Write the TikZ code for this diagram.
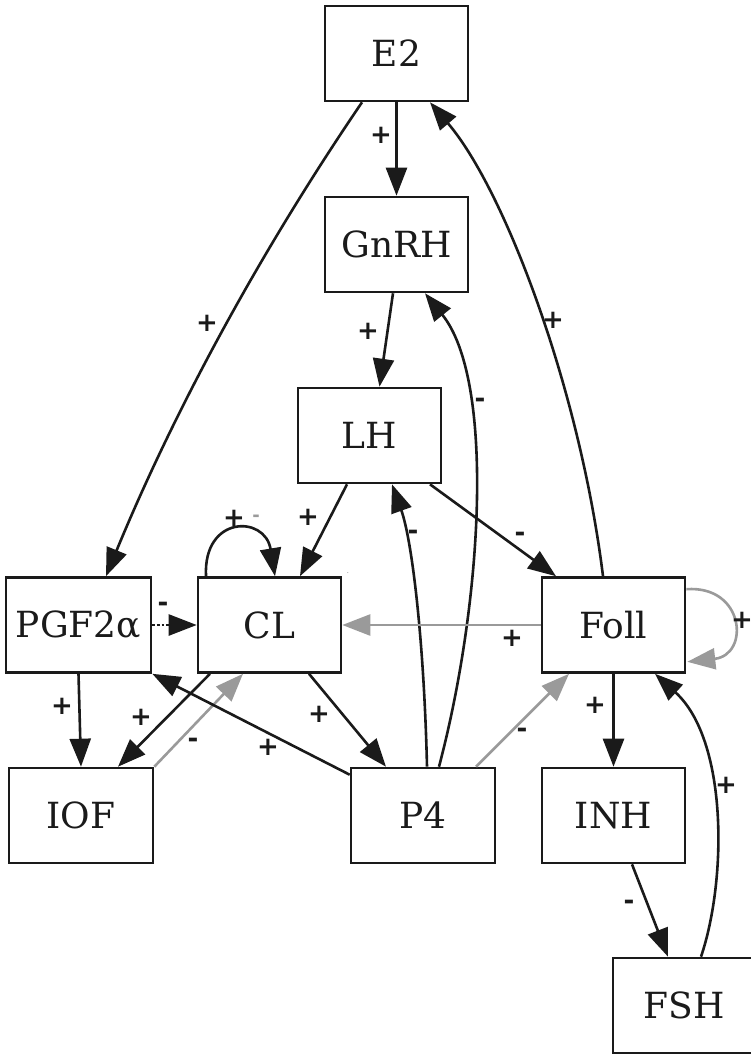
\documentclass[tikz,border=0pt]{standalone}
\usepackage{fontspec}
\setmainfont{DejaVu Serif}
\newfontfamily\labfont{DejaVu Sans Bold}
\usetikzlibrary{arrows.meta}
\definecolor{ink}{HTML}{1A1A1A}
\definecolor{gr}{HTML}{9A9A9A}
\begin{document}
\begin{tikzpicture}[x=1pt,y=-1pt,
  box/.style={draw=ink,line width=2.6pt,minimum width=143pt,minimum height=95pt,inner sep=0pt,font=\fontsize{36}{40}\selectfont,text=ink},
  edge/.style={draw=ink,line width=2.6pt,-{Triangle[length=28pt,width=21pt]}},
  gedge/.style={edge,draw=gr},
  lab/.style={font=\labfont\fontsize{26}{28}\selectfont,text=ink,inner sep=0pt},
  glab/.style={lab,text=gr}]
\useasboundingbox (0,0) rectangle (751,1055);
\node[box] (E2) at (396.5,53.5) {E2};
\node[box] (GnRH) at (396.5,244.5) {GnRH};
\node[box] (LH) at (369.5,435.5) {LH};
\node[box,minimum width=145pt] (PGF) at (78.5,625) {PGF2α};
\node[box] (CL) at (269.5,625) {CL};
\node[box] (Foll) at (613.5,625) {Foll};
\node[box,minimum width=144pt] (IOF) at (81,815.5) {IOF};
\node[box,minimum width=144pt] (P4) at (423,815.5) {P4};
\node[box] (INH) at (613.5,815.5) {INH};
\node[box] (FSH) at (684.5,1005.5) {FSH};
\node[font=\fontsize{8}{8}\selectfont,text=gr,inner sep=0pt] (dot) at (348,573) {.};
\draw[edge] (E2) -- (GnRH) node[lab] at (381,135) {+};
\draw[edge] ([xshift=-34.5pt]E2.south) .. controls (260,252) and (174,411) .. ([xshift=27.5pt]PGF.north) node[lab] at (207,323) {+};
\draw[edge] ([xshift=-3.5pt]GnRH.south) -- ([xshift=10pt]LH.north) node[lab] at (368,331) {+};
\draw[edge] ([xshift=16pt]P4.north) .. controls (483,600) and (495,380) .. ([xshift=28.5pt]GnRH.south) node[lab] at (480,403) {-};
\draw[edge] ([xshift=-10.5pt]Foll.north) .. controls (580,390) and (505,190) .. ([xshift=33.5pt]E2.south) node[lab] at (553,320) {+};
\draw[edge] ([xshift=-22.5pt]LH.south) -- ([xshift=30.5pt]CL.north) node[lab] at (308,517) {+};
\draw[edge] ([xshift=60.5pt]LH.south) -- ([xshift=-57.5pt]Foll.north) node[lab] at (520,537) {-};
\draw[edge] ([xshift=4pt]P4.north) .. controls (424,640) and (412,540) .. ([xshift=22.5pt]LH.south) node[lab] at (413,535) {-};
\draw[edge] ([xshift=-63.5pt]CL.north) .. controls (203,515) and (265,515) .. ([xshift=5.5pt]CL.north) node[lab] at (234,518) {+} node[glab,font=\labfont\fontsize{18}{20}\selectfont] at (256,518) {-};
\draw[edge,dotted] (PGF.east) -- (CL.west) node[lab] at (163,607) {-};
\draw[gedge] (Foll.west) -- (CL.east) node[lab] at (512,638) {+};
\draw[gedge] ([yshift=-13pt]Foll.north east) .. controls (745,585) and (750,655) .. ([xshift=1pt,yshift=12pt]Foll.south east) node[lab] at (742,620) {+};
\draw[edge] (PGF.south) -- (IOF.north) node[lab] at (62,706) {+};
\draw[edge] ([xshift=-59.5pt]CL.south) -- ([xshift=37pt]IOF.north) node[lab] at (141,717) {+};
\draw[gedge] (IOF.north east) -- ([xshift=-26.5pt]CL.south) node[lab] at (193,743) {-};
\draw[edge] ([yshift=-8pt]P4.north west) -- (PGF.south east) node[lab] at (268,747) {+};
\draw[edge] ([xshift=39.5pt]CL.south) -- ([xshift=-37pt]P4.north) node[lab] at (319,714) {+};
\draw[gedge] ([xshift=53pt]P4.north) -- ([xshift=-44.5pt]Foll.south) node[lab] at (522,733) {-};
\draw[edge] (Foll) -- (INH) node[lab] at (595,705) {+};
\draw[edge] ([xshift=18.5pt]INH.south) -- ([xshift=-16.5pt]FSH.north) node[lab] at (629,905) {-};
\draw[edge] ([xshift=16.5pt]FSH.north) .. controls (727,880) and (728,740) .. ([xshift=41.5pt]Foll.south) node[lab] at (726,785) {+};
\end{tikzpicture}
\end{document}
